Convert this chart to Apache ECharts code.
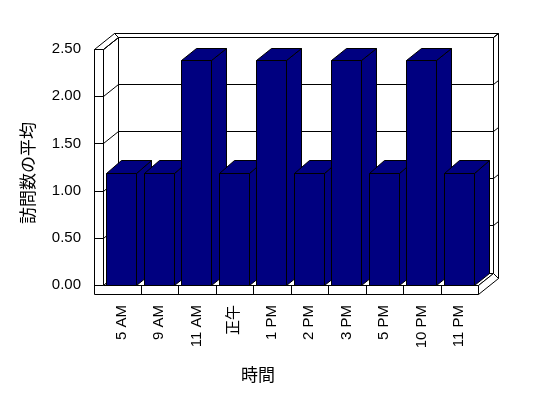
<!DOCTYPE html>
<html>
<head>
<meta charset="utf-8">
<script src="https://cdn.jsdelivr.net/npm/echarts@6/dist/echarts.min.js"></script>
<style>
  html, body { margin: 0; padding: 0; background: #fff; }
  #chart { width: 548px; height: 398px; }
</style>
</head>
<body>
<div id="chart"></div>
<script>
// data
const categories = ["5 AM", "9 AM", "11 AM", "正午", "1 PM", "2 PM", "3 PM", "5 PM", "10 PM", "11 PM"];
const visitAvg = [1.19, 1.19, 2.38, 1.19, 2.38, 1.19, 2.38, 1.19, 2.38, 1.19];
const yTicks = [0, 0.5, 1, 1.5, 2, 2.5];

const FONT = '"Liberation Sans", "Noto Sans CJK JP", sans-serif';
const JP_FONT = '"Noto Sans CJK JP", sans-serif';

// 3d look
const DX = 15, DY = -12.5;     // depth of floor / bars
const DX2 = 20, DY2 = -16.5;   // depth incl. back wall thickness
const WALL = 9, FLOOR = 9;

const px = (v) => Math.round(v) + 0.5;

function poly(points, fill) {
  return {
    type: "polygon",
    shape: { points: points.map((p) => [px(p[0]), px(p[1])]) },
    style: { fill: fill, stroke: "#000", lineWidth: 1 },
  };
}
function line(x1, y1, x2, y2) {
  return {
    type: "line",
    shape: { x1: px(x1), y1: px(y1), x2: px(x2), y2: px(y2) },
    style: { stroke: "#000", lineWidth: 1 },
  };
}

function renderFrame(params, api) {
  const cs = params.coordSys;
  const L = cs.x, R = cs.x + cs.width, T = cs.y, B = cs.y + cs.height;
  const cw = cs.width / categories.length;
  const kids = [];
  // back wall
  kids.push(poly([[L + DX, T + DY], [R + DX, T + DY], [R + DX, B + DY], [L + DX, B + DY]], "#fff"));
  // left wall inner side
  kids.push(poly([[L, T], [L + DX, T + DY], [L + DX, B + DY], [L, B]], "#fff"));
  // floor top
  kids.push(poly([[L, B], [R, B], [R + DX, B + DY], [L + DX, B + DY]], "#fff"));
  // left wall top
  kids.push(poly([[L - WALL, T], [L, T], [L + DX, T + DY], [L - WALL + DX2, T + DY2]], "#fff"));
  // back wall top strip
  kids.push(poly([[L + DX, T + DY], [L - WALL + DX2, T + DY2], [R + DX2, T + DY2], [R + DX, T + DY]], "#fff"));
  // back wall right strip
  kids.push(poly([[R + DX, T + DY], [R + DX2, T + DY2], [R + DX2, B + FLOOR + DY2], [R + DX, B + DY]], "#fff"));
  // floor right side
  kids.push(poly([[R, B], [R + DX, B + DY], [R + DX2, B + FLOOR + DY2], [R, B + FLOOR]], "#fff"));
  // front faces of wall + floor
  kids.push(poly([[L - WALL, T], [L, T], [L, B], [R, B], [R, B + FLOOR], [L - WALL, B + FLOOR]], "#fff"));

  yTicks.forEach((v) => {
    const y = api.coord([0, v])[1];
    kids.push(line(L - WALL, y, L, y));
    if (v > 0) {
      kids.push(line(L, y, L + DX, y + DY));
      kids.push(line(L + DX, y + DY, R + DX, y + DY));
      kids.push(line(R + DX, y + DY, R + DX2, y + DY2));
    }
  });
  for (let k = 1; k < categories.length; k++) {
    const x = L + k * cw;
    kids.push(line(x, B, x, B + FLOOR));
  }
  return { type: "group", children: kids };
}

function renderBar(params, api) {
  const i = api.value(0);
  const top = api.coord([i, api.value(1)]);
  const base = api.coord([i, 0]);
  const cw = api.size([1, 0])[0];
  const l = top[0] - cw / 2 + cw * 0.09;
  const r = l + cw * 0.8;
  const t = top[1], b = base[1];
  const navy = "#000080";
  return {
    type: "group",
    children: [
      poly([[r, t], [r + DX, t + DY], [r + DX, b + DY], [r, b]], navy),
      poly([[l, t], [r, t], [r + DX, t + DY], [l + DX, t + DY]], navy),
      poly([[l, t], [r, t], [r, b], [l, b]], navy),
    ],
  };
}

const chart = echarts.init(document.getElementById("chart"));

const option = {
  backgroundColor: "#fff",
  animation: false,
  grid: { left: 103, right: 70, top: 49, bottom: 113, containLabel: false },
  xAxis: {
    type: "category",
    data: categories,
    axisLine: { show: false },
    axisTick: { show: false },
    splitLine: { show: false },
    axisLabel: {
      rotate: 90,
      margin: 20,
      color: "#000",
      fontSize: 15,
      fontFamily: FONT,
      interval: 0,
    },
  },
  yAxis: {
    type: "value",
    min: 0,
    max: 2.5,
    interval: 0.5,
    axisLine: { show: false },
    axisTick: { show: false },
    splitLine: { show: false },
    axisLabel: {
      margin: 22,
      color: "#000",
      fontSize: 15,
      fontFamily: FONT,
      formatter: (v) => v.toFixed(2),
    },
  },
  graphic: [
    {
      type: "text",
      x: 28,
      y: 173,
      rotation: Math.PI / 2,
      style: {
        text: "訪問数の平均",
        fontSize: 17,
        fontFamily: JP_FONT,
        fill: "#000",
        align: "center",
        verticalAlign: "middle",
      },
    },
    {
      type: "text",
      x: 258,
      y: 375,
      style: {
        text: "時間",
        fontSize: 17,
        fontFamily: JP_FONT,
        fill: "#000",
        align: "center",
        verticalAlign: "middle",
      },
    },
  ],
  series: [
    {
      name: "frame",
      type: "custom",
      z: 1,
      clip: false,
      silent: true,
      renderItem: renderFrame,
      data: [[0, 0]],
    },
    {
      name: "訪問数の平均",
      type: "custom",
      z: 2,
      clip: false,
      renderItem: renderBar,
      encode: { x: 0, y: 1 },
      data: categories.map((c, i) => [i, visitAvg[i]]),
    },
  ],
};

chart.setOption(option);
</script>
</body>
</html>
